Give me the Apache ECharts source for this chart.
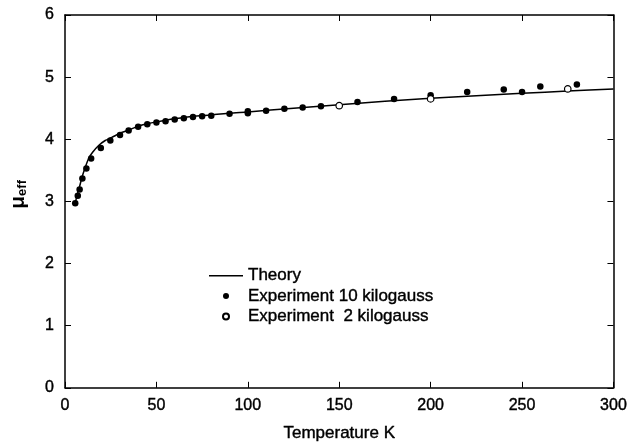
<!DOCTYPE html>
<html>
<head>
<meta charset="utf-8">
<script src="https://cdn.jsdelivr.net/npm/echarts@6/dist/echarts.min.js"></script>
<style>
  html, body { margin: 0; padding: 0; background: #fff; }
  #chart { width: 630px; height: 447px; }
</style>
</head>
<body>
<div id="chart"></div>
<script>
// theory curve (temperature K, mu_eff)
const theoryT = [5.7, 6.6, 7.9, 9.3, 11.1, 12.9, 15.1, 18.4, 22, 25.6, 31, 35, 40, 45, 50, 60, 70, 80, 90, 100, 125, 150, 175, 200, 225, 250, 275, 300]
const theoryMu = [2.98, 3.10, 3.23, 3.39, 3.55, 3.69, 3.79, 3.90, 3.98, 4.03, 4.11, 4.15, 4.21, 4.25, 4.28, 4.33, 4.37, 4.39, 4.42, 4.44, 4.50, 4.555, 4.61, 4.66, 4.70, 4.74, 4.775, 4.81]

// experiment, 10 kilogauss
const exp10T = [5.6, 7.0, 8.0, 9.5, 11.7, 14.3, 19.6, 24.8, 30.1, 34.8, 40, 45, 50, 55, 60, 65, 70, 75, 80, 90, 100, 100, 110, 120, 130, 140, 160, 180, 200, 220, 240, 250, 260, 280]
const exp10Mu = [2.97, 3.09, 3.19, 3.37, 3.53, 3.69, 3.86, 3.98, 4.07, 4.14, 4.20, 4.24, 4.27, 4.29, 4.32, 4.34, 4.36, 4.37, 4.38, 4.41, 4.42, 4.45, 4.46, 4.49, 4.51, 4.53, 4.60, 4.65, 4.71, 4.76, 4.80, 4.76, 4.85, 4.88]

// experiment, 2 kilogauss
const exp2T = [150, 200, 275]
const exp2Mu = [4.54, 4.65, 4.81]

const xTicks = [0, 50, 100, 150, 200, 250, 300]
const yTicks = [0, 1, 2, 3, 4, 5, 6]

const zip = (a, b) => a.map((v, i) => [v, b[i]])

const font = 'Liberation Sans, Arial, Helvetica, sans-serif'
// slightly heavier text, like the printed figure
const ink = { color: '#000', textBorderColor: '#000', textBorderWidth: 0.4 }

const myChart = echarts.init(document.getElementById('chart'))

const baseX = {
  type: 'value',
  min: xTicks[0],
  max: xTicks[xTicks.length - 1],
  interval: 50,
  splitLine: { show: false },
  axisLine: { show: true, onZero: false, lineStyle: { color: '#000', width: 1.5 } },
  axisTick: { show: true, inside: true, length: 6, lineStyle: { color: '#000' } },
}
const baseY = {
  type: 'value',
  min: yTicks[0],
  max: yTicks[yTicks.length - 1],
  interval: 1,
  splitLine: { show: false },
  axisLine: { show: true, onZero: false, lineStyle: { color: '#000', width: 1.5 } },
  axisTick: { show: true, inside: true, length: 6, lineStyle: { color: '#000' } },
}

const option = {
  animation: false,
  backgroundColor: '#fff',
  textStyle: { fontFamily: font },
  grid: { left: 64, right: 16, top: 15, bottom: 56 },
  legend: {
    orient: 'vertical',
    left: 204,
    top: 262,
    itemWidth: 34,
    itemHeight: 6,
    itemGap: 3,
    textStyle: Object.assign({ fontFamily: font, fontSize: 17 }, ink),
    data: [
      { name: 'Theory', icon: 'path://M0,0H34V1.5H0Z' },
      { name: 'Experiment 10 kilogauss', icon: 'circle' },
      { name: 'Experiment  2 kilogauss', icon: 'circle' },
    ],
  },
  xAxis: [
    Object.assign({}, baseX, {
      position: 'bottom',
      name: 'Temperature K',
      nameLocation: 'middle',
      nameGap: 37,
      nameTextStyle: Object.assign({ fontFamily: font, fontSize: 17 }, ink),
      axisLabel: Object.assign({ margin: 10, fontFamily: font, fontSize: 16 }, ink),
    }),
    Object.assign({}, baseX, { position: 'top', axisLabel: { show: false } }),
  ],
  yAxis: [
    Object.assign({}, baseY, {
      position: 'left',
      name: '{mu|μ}{sub|eff}',
      nameLocation: 'middle',
      nameGap: 36,
      nameTextStyle: {
        padding: [0, 0, 0, 14],
        rich: {
          mu: { fontFamily: font, fontSize: 21, color: '#000', fontWeight: 'bold' },
          sub: { fontFamily: font, fontSize: 13, color: '#000', fontWeight: 'bold', padding: [8, 0, 0, 0] },
        },
      },
      axisLabel: Object.assign({ margin: 11, fontFamily: font, fontSize: 16 }, ink),
    }),
    Object.assign({}, baseY, { position: 'right', axisLabel: { show: false } }),
  ],
  series: [
    {
      name: 'Theory',
      type: 'line',
      data: zip(theoryT, theoryMu),
      symbol: 'none',
      smooth: 0.2,
      lineStyle: { color: '#000', width: 1.5 },
      itemStyle: { color: '#000' },
      z: 3,
    },
    {
      name: 'Experiment 10 kilogauss',
      type: 'scatter',
      data: zip(exp10T, exp10Mu),
      symbol: 'circle',
      symbolSize: 6.5,
      itemStyle: { color: '#000', opacity: 1 },
      z: 4,
    },
    {
      name: 'Experiment  2 kilogauss',
      type: 'scatter',
      data: zip(exp2T, exp2Mu),
      symbol: 'circle',
      symbolSize: 6.5,
      itemStyle: { color: '#fff', borderColor: '#000', borderWidth: 1.2, opacity: 1 },
      z: 4,
    },
  ],
}

myChart.setOption(option)
</script>
</body>
</html>
